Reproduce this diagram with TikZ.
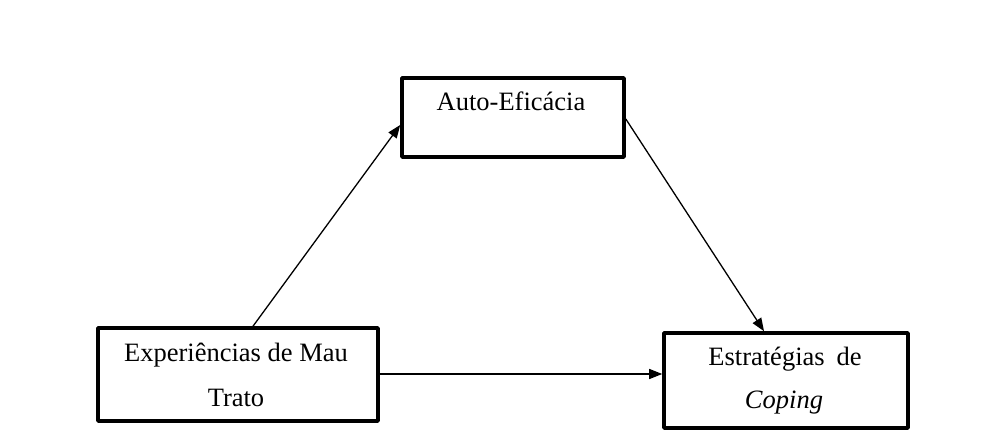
\documentclass[tikz,border=0pt]{standalone}
\usepackage{fontspec}
\setmainfont{Liberation Serif}
\usetikzlibrary{arrows.meta,calc}
\begin{document}
\begin{tikzpicture}[x=1pt,y=-1pt,
  box/.style={draw, line width=3.6pt, line join=round, inner sep=0pt},
  lbl/.style={anchor=base, font=\fontsize{26.5}{44}\selectfont, inner sep=0pt},
  conn/.style={line width=1.3pt, -{Triangle[length=13pt,width=10pt]}}]
\useasboundingbox (0,0) rectangle (984,446);
\node[box, minimum width=222pt, minimum height=79pt] (A) at (513,117.5) {};
\node[box, minimum width=280pt, minimum height=93pt] (E) at (238,374.5) {};
\node[box, minimum width=244pt, minimum height=95pt] (S) at (786,380.5) {};
\node[lbl] (tA) at ($(A.north)+(-2,34)$) {Auto-Eficácia};
\node[lbl] (tE1) at ($(E.north)+(-2,35)$) {Experiências de Mau};
\node[lbl] (tE2) at ($(E.north)+(-2,80)$) {Trato};
\node[lbl] (tS1) at ($(S.north)+(-1,34)$) {Estratégias\hspace{0.45em}de};
\node[lbl] (tS2) at ($(S.north)+(-2,77)$) {\textit{Coping}};
\draw[conn] ($(E.north)+(15,0)$) -- ($(A.west)+(0,7.5)$);
\draw[conn] ($(A.east)+(0,1.5)$) -- ($(S.north)+(-22,0)$);
\draw[conn] ($(E.east)+(0,-0.5)$) -- ($(S.west)+(0,-6.5)$);
\end{tikzpicture}
\end{document}
